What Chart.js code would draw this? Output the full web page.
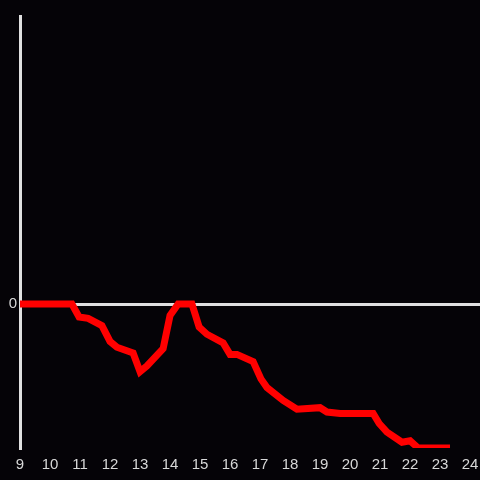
<!DOCTYPE html>
<html>
<head>
<meta charset="utf-8">
<script src="https://cdn.jsdelivr.net/npm/chart.js@4/dist/chart.umd.min.js"></script>
<style>
  html, body { margin: 0; padding: 0; background: #050307; }
  #wrap { width: 480px; height: 480px; }
</style>
</head>
<body>
<div id="wrap"><canvas id="chart" width="480" height="480"></canvas></div>
<script>
// hours of the day and the value read at each one
var hours = [9, 10.73, 10.97, 11.27, 11.73, 12.0, 12.23, 12.77, 13.0, 13.23, 13.77, 14.0, 14.27,
             14.73, 14.97, 15.23, 15.77, 16.0, 16.23, 16.77, 17.03, 17.23, 17.77, 18.23, 19.0,
             19.23, 19.67, 20.77, 20.97, 21.23, 21.73, 22.0, 22.27, 23.33];
var values = [0, 0, -0.09, -0.10, -0.15, -0.26, -0.30, -0.34, -0.47, -0.43, -0.31, -0.08, 0,
              0, -0.16, -0.21, -0.27, -0.35, -0.35, -0.40, -0.52, -0.58, -0.67, -0.73, -0.72,
              -0.75, -0.76, -0.76, -0.83, -0.89, -0.96, -0.95, -1.0, -1.0];
var xTicks = [9, 10, 11, 12, 13, 14, 15, 16, 17, 18, 19, 20, 21, 22, 23, 24];
var yTicks = [-1, 0, 2];

var points = [];
for (var i = 0; i < hours.length; i++) {
  points.push({x: hours[i], y: values[i]});
}

var ctx = document.getElementById("chart");
var myChart = new Chart(ctx, {
  type: 'line',
  data: {
    datasets: [{
      data: points,
      borderColor: '#ff0000',
      borderWidth: 7,
      pointRadius: 0,
      tension: 0,
      fill: false
    }]
  },
  options: {
    responsive: false,
    animation: false,
    layout: {padding: {top: 16, right: 0, bottom: 0, left: 0}},
    plugins: {legend: {display: false}, tooltip: {enabled: false}},
    scales: {
      x: {
        type: 'linear',
        min: 9,
        max: 24.33,
        afterBuildTicks: function(axis) {
          axis.ticks = xTicks.map(function(v){ return {value: v}; });
        },
        afterFit: function(axis) {
          axis.height = 32;
          axis.paddingLeft = 0;
          axis.paddingRight = 0;
        },
        border: {display: false},
        grid: {display: false},
        ticks: {color: '#d8d8d8', font: {size: 15}, padding: 0, maxRotation: 0}
      },
      y: {
        min: -1,
        max: 2,
        afterBuildTicks: function(axis) {
          axis.ticks = yTicks.map(function(v){ return {value: v}; });
        },
        afterFit: function(axis) {
          axis.width = 20;
          axis.paddingTop = 0;
          axis.paddingBottom = 0;
        },
        border: {display: true, color: '#e0e0e0', width: 3},
        grid: {
          drawTicks: false,
          lineWidth: 3,
          color: function(c) { return c.tick && c.tick.value === 0 ? '#e0e0e0' : 'rgba(0,0,0,0)'; }
        },
        ticks: {
          color: '#d8d8d8',
          font: {size: 15},
          padding: 3,
          callback: function(v) { return v === 0 ? '0' : ''; }
        }
      }
    }
  },
  plugins: [{
    id: 'bg',
    beforeDraw: function(chart) {
      var c = chart.ctx;
      c.save();
      c.fillStyle = '#050307';
      c.fillRect(0, 0, chart.width, chart.height);
      c.restore();
    }
  }]
});
</script>
</body>
</html>
